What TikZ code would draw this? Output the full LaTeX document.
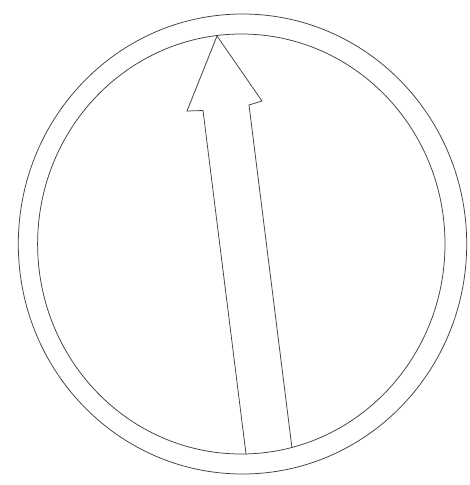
\documentclass[tikz,border=0pt]{standalone}
\begin{document}
\begin{tikzpicture}[x=1pt,y=-1pt,
  ink/.style={draw=black!75,line width=0.75pt,line join=miter}]
\useasboundingbox (0,0) rectangle (470,485);
\fill[white] (0,0) rectangle (470,485);
% dial rings
\draw[ink] (242.5,244) ellipse [x radius=224.2,y radius=230];
\draw[ink] (241.3,244) ellipse [x radius=203.7,y radius=210];
% arrow
\coordinate (bl) at (246,454);
\coordinate (sl) at (203,110.5);
\coordinate (hl) at (187,111);
\coordinate (tip) at (217,36);
\coordinate (hr) at (262,101);
\coordinate (sr) at (249,105);
\coordinate (br) at (292,448);
\draw[ink] (bl) -- (sl) -- (hl) -- (tip) -- (hr) -- (sr) -- (br);
\end{tikzpicture}
\end{document}
